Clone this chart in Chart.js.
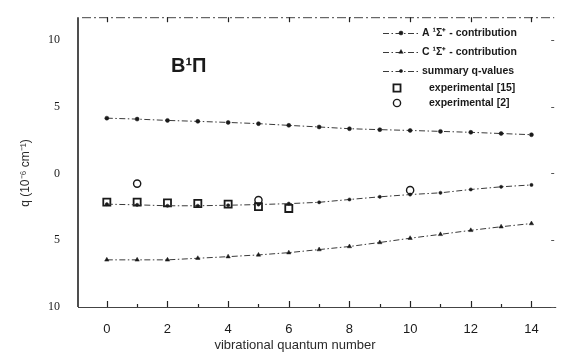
<!DOCTYPE html>
<html>
<head>
<meta charset="utf-8">
<script src="https://cdn.jsdelivr.net/npm/chart.js@4.4.1/dist/chart.umd.min.js"></script>
<style>
  html, body { margin: 0; padding: 0; background: #ffffff; }
  #wrap { width: 561px; height: 361px; }
</style>
</head>
<body>
<div id="wrap"><canvas id="c" width="561" height="361"></canvas></div>
<script>
// Vibrational levels v of the B 1Pi state
const vibLevels = [0, 1, 2, 3, 4, 5, 6, 7, 8, 9, 10, 11, 12, 13, 14];

// Calculated q contributions (10^-6 cm^-1)
const aContribution = [4.14, 4.07, 3.97, 3.90, 3.82, 3.73, 3.60, 3.48, 3.35, 3.28, 3.22, 3.15, 3.08, 2.99, 2.90];
const cContribution = [-6.47, -6.47, -6.47, -6.35, -6.23, -6.10, -5.93, -5.70, -5.47, -5.17, -4.85, -4.56, -4.26, -3.99, -3.75];
const summaryQ = [-2.30, -2.35, -2.42, -2.42, -2.38, -2.33, -2.26, -2.16, -1.95, -1.75, -1.58, -1.45, -1.20, -1.00, -0.86];

// Experimental values
const exp15Levels = [0, 1, 2, 3, 4, 5, 6];
const exp15Values = [-2.15, -2.15, -2.20, -2.25, -2.30, -2.48, -2.62];
const exp2Levels = [1, 5, 10];
const exp2Values = [-0.76, -1.99, -1.25];

// Axis ticks
const xTickValues = [0, 2, 4, 6, 8, 10, 12, 14];
const yTickValues = [-10, -5, 0, 5, 10];

// Legend captions
const seriesNames = ['A \u00B9\u03A3\u207A - contribution', 'C \u00B9\u03A3\u207A - contribution', 'summary q-values', 'experimental [15]', 'experimental [2]'];

const pairs = (xs, ys) => xs.map((x, i) => ({ x: x, y: ys[i] }));

const INK = '#1a1a1a';
const LINE = '#3a3a3a';
const DASHDOT = [6, 2.5, 1.5, 2.5];

// Frame: solid left axis, bottom axis with inward ticks, dashed top border with ticks
const framePlugin = {
  id: 'frame',
  beforeDatasetsDraw(chart) {
    const { ctx, chartArea: a, scales } = chart;
    const xs = scales.x, ys = scales.y;
    ctx.save();
    ctx.strokeStyle = '#222';
    // left axis
    ctx.lineWidth = 1.6;
    ctx.beginPath();
    ctx.moveTo(a.left, a.top);
    ctx.lineTo(a.left, a.bottom);
    ctx.stroke();
    // bottom axis
    ctx.lineWidth = 1;
    ctx.strokeStyle = '#444';
    ctx.beginPath();
    ctx.moveTo(a.left, a.bottom + 0.5);
    ctx.lineTo(a.right + 2, a.bottom + 0.5);
    ctx.stroke();
    // top border (dash-dot)
    ctx.setLineDash([9, 3, 2, 3]);
    ctx.beginPath();
    ctx.moveTo(a.left + 4, a.top + 0.5);
    ctx.lineTo(a.right, a.top + 0.5);
    ctx.stroke();
    ctx.setLineDash([]);
    // x ticks: even levels long, odd levels short
    ctx.strokeStyle = '#222';
    ctx.lineWidth = 1.2;
    vibLevels.forEach(v => {
      const px = Math.round(xs.getPixelForValue(v)) + 0.5;
      const len = v % 2 === 0 ? 6 : 3;
      ctx.beginPath();
      ctx.moveTo(px, a.bottom);
      ctx.lineTo(px, a.bottom - len);
      ctx.stroke();
      if (v % 2 === 0) {
        ctx.beginPath();
        ctx.moveTo(px, a.top);
        ctx.lineTo(px, a.top + 5);
        ctx.stroke();
      }
    });
    // small ticks on the right edge
    ctx.lineWidth = 1;
    ctx.strokeStyle = '#555';
    yTickValues.forEach(v => {
      const py = Math.round(ys.getPixelForValue(v)) + 0.5;
      ctx.beginPath();
      ctx.moveTo(a.right, py);
      ctx.lineTo(a.right - 3, py);
      ctx.stroke();
    });
    ctx.restore();
  }
};

// Titles, state label and legend box
const annotatePlugin = {
  id: 'annotate',
  afterDraw(chart) {
    const { ctx, chartArea: a } = chart;
    ctx.save();
    ctx.fillStyle = INK;

    // state label
    ctx.font = "bold 20px 'Liberation Sans', Arial, sans-serif";
    ctx.textBaseline = 'alphabetic';
    ctx.textAlign = 'left';
    ctx.fillText('B\u00B9\u03A0', 171, 72);

    // x axis title
    ctx.font = "13px 'Liberation Sans', Arial, sans-serif";
    ctx.fillStyle = '#2a2a2a';
    ctx.textAlign = 'center';
    ctx.textBaseline = 'middle';
    ctx.fillText('vibrational quantum number', 295, 345);

    // y axis title
    ctx.save();
    ctx.translate(26, 173);
    ctx.rotate(-Math.PI / 2);
    ctx.font = "12px 'Liberation Sans', Arial, sans-serif";
    ctx.fillText('q (10\u207B\u2076 cm\u207B\u00B9)', 0, 0);
    ctx.restore();

    // legend
    const rows = [33, 52, 71, 88, 103];
    ctx.font = "bold 10.5px 'Liberation Sans', Arial, sans-serif";
    ctx.textAlign = 'left';
    chart.data.datasets.forEach((ds, i) => {
      const y = rows[i];
      const isLine = ds.showLine !== false;
      if (isLine) {
        ctx.save();
        ctx.strokeStyle = ds.borderColor;
        ctx.lineWidth = ds.borderWidth;
        ctx.setLineDash(ds.borderDash || []);
        ctx.beginPath();
        ctx.moveTo(383, y + 0.5);
        ctx.lineTo(418, y + 0.5);
        ctx.stroke();
        ctx.restore();
      }
      ctx.save();
      ctx.fillStyle = ds.pointBackgroundColor;
      ctx.strokeStyle = ds.pointBorderColor;
      ctx.lineWidth = ds.pointBorderWidth;
      Chart.helpers.drawPoint(ctx, {
        pointStyle: ds.pointStyle,
        radius: ds.pointRadius,
        borderWidth: ds.pointBorderWidth,
        rotation: 0
      }, isLine ? 401 : 397, y);
      ctx.restore();
      ctx.fillStyle = INK;
      ctx.textBaseline = 'middle';
      ctx.fillText(ds.label, isLine ? 422 : 429, y);
    });
    ctx.restore();
  }
};

new Chart(document.getElementById('c'), {
  type: 'scatter',
  data: {
    datasets: [
      {
        label: seriesNames[0],
        data: pairs(vibLevels, aContribution),
        showLine: true,
        borderColor: LINE,
        borderWidth: 1,
        borderDash: DASHDOT,
        pointStyle: 'circle',
        pointRadius: 2,
        pointBackgroundColor: INK,
        pointBorderColor: INK,
        pointBorderWidth: 0.5
      },
      {
        label: seriesNames[1],
        data: pairs(vibLevels, cContribution),
        showLine: true,
        borderColor: LINE,
        borderWidth: 1,
        borderDash: DASHDOT,
        pointStyle: 'triangle',
        pointRadius: 2.5,
        pointBackgroundColor: INK,
        pointBorderColor: INK,
        pointBorderWidth: 0.5
      },
      {
        label: seriesNames[2],
        data: pairs(vibLevels, summaryQ),
        showLine: true,
        borderColor: LINE,
        borderWidth: 1,
        borderDash: DASHDOT,
        pointStyle: 'circle',
        pointRadius: 1.6,
        pointBackgroundColor: INK,
        pointBorderColor: INK,
        pointBorderWidth: 0.5
      },
      {
        label: seriesNames[3],
        data: pairs(exp15Levels, exp15Values),
        showLine: false,
        pointStyle: 'rect',
        pointRadius: 5,
        pointBackgroundColor: 'rgba(255,255,255,0)',
        pointBorderColor: INK,
        pointBorderWidth: 1.8
      },
      {
        label: seriesNames[4],
        data: pairs(exp2Levels, exp2Values),
        showLine: false,
        pointStyle: 'circle',
        pointRadius: 3.6,
        pointBackgroundColor: 'rgba(255,255,255,0)',
        pointBorderColor: INK,
        pointBorderWidth: 1.4
      }
    ]
  },
  options: {
    responsive: false,
    animation: false,
    devicePixelRatio: 1,
    layout: { padding: { top: 12, right: 3, left: 0, bottom: 0 } },
    plugins: {
      legend: { display: false },
      tooltip: { enabled: false }
    },
    scales: {
      x: {
        type: 'linear',
        min: -0.95,
        max: 14.75,
        grid: { display: false },
        border: { display: false },
        afterBuildTicks: s => { s.ticks = xTickValues.map(v => ({ value: v })); },
        afterFit: s => { s.height = 54; },
        ticks: {
          padding: 7,
          color: INK,
          font: { family: "'Liberation Sans', Arial, sans-serif", size: 13 },
          callback: v => String(v)
        }
      },
      y: {
        type: 'linear',
        min: -10,
        max: 11.7,
        grid: { display: false },
        border: { display: false },
        afterBuildTicks: s => { s.ticks = yTickValues.map(v => ({ value: v })); },
        afterFit: s => { s.width = 78; },
        ticks: {
          padding: 10,
          color: INK,
          font: { family: "'Liberation Serif', 'Times New Roman', serif", size: 12 },
          callback: v => String(Math.abs(v))
        }
      }
    }
  },
  plugins: [framePlugin, annotatePlugin]
});
</script>
</body>
</html>
